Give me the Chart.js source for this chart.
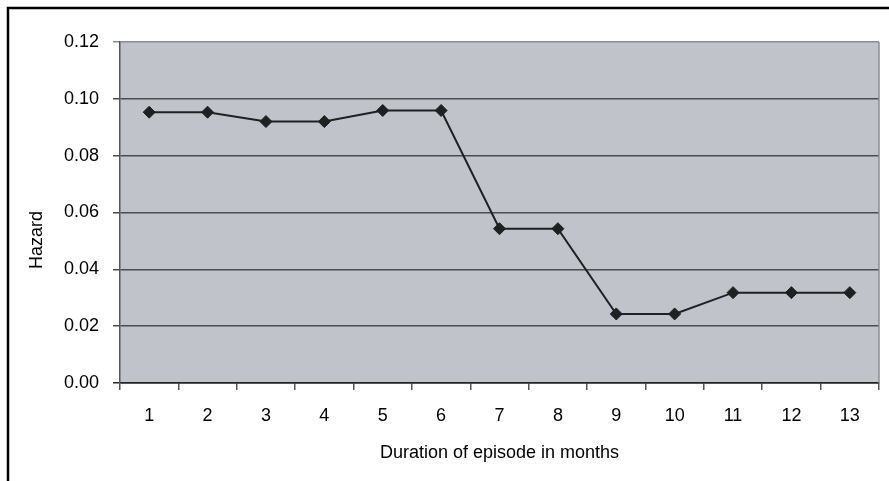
<!DOCTYPE html>
<html>
<head>
<meta charset="utf-8">
<script src="https://cdn.jsdelivr.net/npm/chart.js@4/dist/chart.umd.min.js"></script>
<style>
  html, body { margin: 0; padding: 0; background: #ffffff; }
  #wrap { position: relative; width: 889px; height: 481px; }
</style>
</head>
<body>
<div id="wrap"><canvas id="c" width="889" height="481"></canvas></div>
<script>
// Duration of episode (months) and the estimated hazard per month
const months = ['1', '2', '3', '4', '5', '6', '7', '8', '9', '10', '11', '12', '13'];
const hazard = [0.0953, 0.0953, 0.0920, 0.0920, 0.0959, 0.0959, 0.0543, 0.0543, 0.0243, 0.0243, 0.0318, 0.0318, 0.0318];
const yTicks = [0.00, 0.02, 0.04, 0.06, 0.08, 0.10, 0.12];

const yTitle = 'Hazard';
const xTitle = 'Duration of episode in months';

const FONT = '"Liberation Sans", Arial, sans-serif';

// Grey plot background, plot border, outer frame and axis titles
const decor = {
  id: 'decor',
  beforeDraw(chart) {
    const { ctx, chartArea: a } = chart;
    ctx.save();
    ctx.fillStyle = '#c0c3ca';
    ctx.fillRect(a.left, a.top, a.right - a.left, a.bottom - a.top);
    ctx.restore();
  },
  afterDraw(chart) {
    const { ctx, chartArea: a } = chart;
    ctx.save();
    // right edge of the plot area
    ctx.strokeStyle = '#8a8d92';
    ctx.lineWidth = 1.5;
    ctx.beginPath();
    ctx.moveTo(a.right, a.top);
    ctx.lineTo(a.right, a.bottom);
    ctx.stroke();
    // outer frame (top and left)
    ctx.strokeStyle = '#000000';
    ctx.lineWidth = 2.5;
    ctx.beginPath();
    ctx.moveTo(8, chart.height);
    ctx.lineTo(8, 8);
    ctx.lineTo(chart.width, 8);
    ctx.stroke();
    // axis titles
    ctx.fillStyle = '#000000';
    ctx.font = '18px ' + FONT;
    ctx.textAlign = 'center';
    ctx.textBaseline = 'middle';
    ctx.fillText(xTitle, (a.left + a.right) / 2, 453);
    ctx.translate(37, 240);
    ctx.rotate(-Math.PI / 2);
    ctx.fillText(yTitle, 0, 0);
    ctx.restore();
  }
};

new Chart(document.getElementById('c'), {
  type: 'line',
  data: {
    labels: months,
    datasets: [{
      data: hazard,
      borderColor: '#1e2022',
      borderWidth: 2,
      pointStyle: 'rectRot',
      pointRadius: 6,
      pointHoverRadius: 6,
      pointBackgroundColor: '#1e2022',
      pointBorderColor: '#1e2022',
      pointBorderWidth: 1,
      tension: 0,
      fill: false
    }]
  },
  options: {
    responsive: false,
    animation: false,
    devicePixelRatio: 1,
    layout: { padding: { left: 0, top: 42, right: 10, bottom: 0 } },
    plugins: {
      legend: { display: false },
      tooltip: { enabled: false },
      title: { display: false }
    },
    scales: {
      x: {
        type: 'category',
        offset: true,
        grid: {
          offset: true,
          drawOnChartArea: false,
          drawTicks: true,
          tickLength: 7,
          color: '#555555',
          lineWidth: 1.5
        },
        border: { display: true, color: '#222222', width: 1.5 },
        ticks: {
          color: '#000000',
          font: { family: FONT, size: 18 },
          padding: 15,
          maxRotation: 0,
          autoSkip: false
        },
        afterFit(scale) { scale.height = 98; }
      },
      y: {
        min: 0,
        max: 0.12,
        afterBuildTicks(scale) { scale.ticks = yTicks.map(v => ({ value: v })); },
        grid: {
          drawTicks: true,
          tickLength: 7,
          color(ctx) {
            const v = ctx.tick ? ctx.tick.value : null;
            if (v === 0.12) return '#8a8d92';
            if (v === 0) return '#222222';
            return '#4a4c50';
          },
          lineWidth: 1.5
        },
        border: { display: true, color: '#555555', width: 1.5 },
        ticks: {
          color: '#000000',
          font: { family: FONT, size: 18 },
          padding: 14,
          callback: v => Number(v).toFixed(2)
        },
        afterFit(scale) { scale.width = 120; }
      }
    }
  },
  plugins: [decor]
});
</script>
</body>
</html>
